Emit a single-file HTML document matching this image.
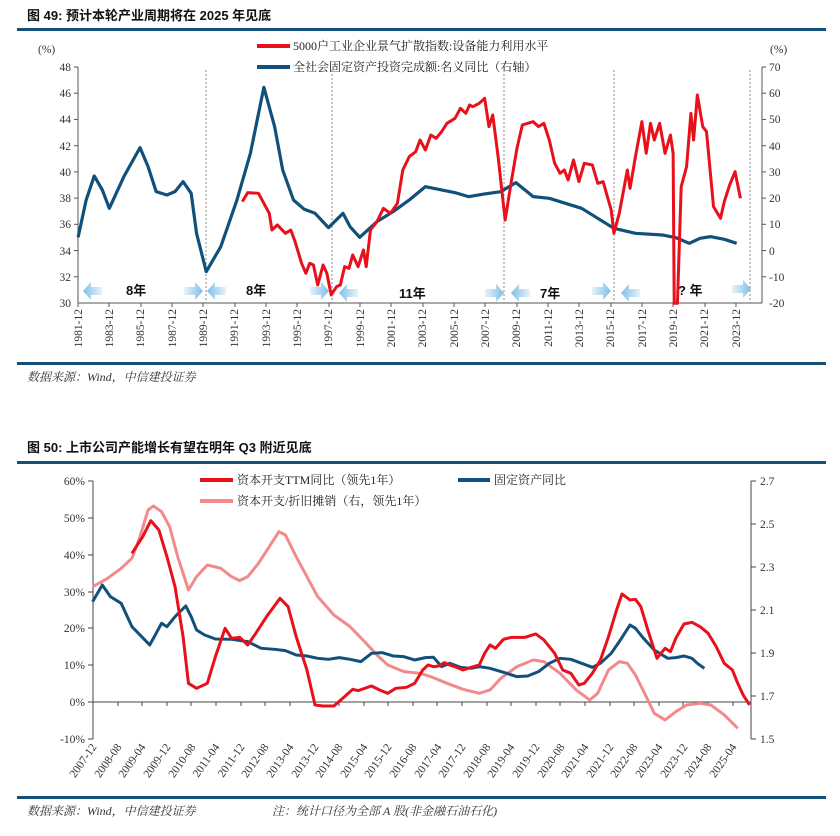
<!DOCTYPE html>
<html><head><meta charset="utf-8"><style>
body{margin:0;background:#fff;}
svg{display:block;font-family:"Liberation Serif","Noto Serif CJK SC",serif;}
.t{font-family:"Liberation Sans","Noto Sans CJK SC",sans-serif;font-weight:bold;font-size:13px;fill:#111}
.s{font-style:italic;font-size:12px;fill:#333}
.ax{font-size:11.5px;fill:#333}
.lg{font-size:12px;fill:#222}
</style></head><body>
<svg width="840" height="836" viewBox="0 0 840 836" xmlns="http://www.w3.org/2000/svg">
<defs>
<linearGradient id="gl" x1="0" x2="1"><stop offset="0" stop-color="#7fbfe8"/><stop offset="1" stop-color="#e6f3fb"/></linearGradient>
<linearGradient id="gr" x1="0" x2="1"><stop offset="0" stop-color="#e6f3fb"/><stop offset="1" stop-color="#7fbfe8"/></linearGradient>
<g id="al"><polygon points="0,0 8,-9 8,-4 19,-4 19,4 8,4 8,9" fill="url(#gl)"/></g>
<g id="ar"><polygon points="19,0 11,-9 11,-4 0,-4 0,4 11,4 11,9" fill="url(#gr)"/></g>
</defs>
<!-- Chart 1 header -->
<text x="27" y="20" class="t">图 49: 预计本轮产业周期将在 2025 年见底</text>
<rect x="17" y="28" width="809" height="3" fill="#155079"/>
<!-- legend -->
<line x1="257" y1="46" x2="290" y2="46" stroke="#e8101a" stroke-width="4"/>
<text x="293" y="50" class="lg">5000户工业企业景气扩散指数:设备能力利用水平</text>
<line x1="257" y1="67" x2="290" y2="67" stroke="#11507a" stroke-width="4"/>
<text x="293" y="71" class="lg">全社会固定资产投资完成额:名义同比（右轴）</text>
<text x="38" y="53" class="ax">(%)</text>
<text x="770" y="53" class="ax">(%)</text>
<!-- axes -->
<g stroke="#555" stroke-width="1" fill="none">
<line x1="78" y1="67" x2="78" y2="303"/>
<line x1="762" y1="67" x2="762" y2="303"/>
<line x1="78" y1="303" x2="762" y2="303"/>
</g>
<g stroke="#555">
<line x1="74" y1="67" x2="78" y2="67"/><line x1="74" y1="93.2" x2="78" y2="93.2"/><line x1="74" y1="119.4" x2="78" y2="119.4"/><line x1="74" y1="145.7" x2="78" y2="145.7"/><line x1="74" y1="171.9" x2="78" y2="171.9"/><line x1="74" y1="198.1" x2="78" y2="198.1"/><line x1="74" y1="224.3" x2="78" y2="224.3"/><line x1="74" y1="250.6" x2="78" y2="250.6"/><line x1="74" y1="276.8" x2="78" y2="276.8"/>
<line x1="762" y1="67" x2="766" y2="67"/><line x1="762" y1="93.2" x2="766" y2="93.2"/><line x1="762" y1="119.4" x2="766" y2="119.4"/><line x1="762" y1="145.7" x2="766" y2="145.7"/><line x1="762" y1="171.9" x2="766" y2="171.9"/><line x1="762" y1="198.1" x2="766" y2="198.1"/><line x1="762" y1="224.3" x2="766" y2="224.3"/><line x1="762" y1="250.6" x2="766" y2="250.6"/><line x1="762" y1="276.8" x2="766" y2="276.8"/>
</g>
<g class="ax" text-anchor="end">
<text x="71" y="71">48</text><text x="71" y="97">46</text><text x="71" y="123">44</text><text x="71" y="150">42</text><text x="71" y="176">40</text><text x="71" y="202">38</text><text x="71" y="228">36</text><text x="71" y="255">34</text><text x="71" y="281">32</text><text x="71" y="307">30</text>
</g>
<g class="ax">
<text x="769" y="71">70</text><text x="769" y="97">60</text><text x="769" y="123">50</text><text x="769" y="150">40</text><text x="769" y="176">30</text><text x="769" y="202">20</text><text x="769" y="228">10</text><text x="769" y="255">0</text><text x="769" y="281">-10</text><text x="769" y="307">-20</text>
</g>
<g id="xt1" class="ax" text-anchor="end">
<text transform="translate(82,309) rotate(-90)">1981-12</text>
<text transform="translate(113,309) rotate(-90)">1983-12</text>
<text transform="translate(144,309) rotate(-90)">1985-12</text>
<text transform="translate(176,309) rotate(-90)">1987-12</text>
<text transform="translate(207,309) rotate(-90)">1989-12</text>
<text transform="translate(238,309) rotate(-90)">1991-12</text>
<text transform="translate(270,309) rotate(-90)">1993-12</text>
<text transform="translate(301,309) rotate(-90)">1995-12</text>
<text transform="translate(332,309) rotate(-90)">1997-12</text>
<text transform="translate(364,309) rotate(-90)">1999-12</text>
<text transform="translate(395,309) rotate(-90)">2001-12</text>
<text transform="translate(426,309) rotate(-90)">2003-12</text>
<text transform="translate(458,309) rotate(-90)">2005-12</text>
<text transform="translate(489,309) rotate(-90)">2007-12</text>
<text transform="translate(520,309) rotate(-90)">2009-12</text>
<text transform="translate(552,309) rotate(-90)">2011-12</text>
<text transform="translate(583,309) rotate(-90)">2013-12</text>
<text transform="translate(614,309) rotate(-90)">2015-12</text>
<text transform="translate(646,309) rotate(-90)">2017-12</text>
<text transform="translate(677,309) rotate(-90)">2019-12</text>
<text transform="translate(708,309) rotate(-90)">2021-12</text>
<text transform="translate(740,309) rotate(-90)">2023-12</text>
</g>
<g stroke="#555">
<line x1="78" y1="303" x2="78" y2="307"/><line x1="109" y1="303" x2="109" y2="307"/><line x1="141" y1="303" x2="141" y2="307"/><line x1="172" y1="303" x2="172" y2="307"/><line x1="203" y1="303" x2="203" y2="307"/><line x1="235" y1="303" x2="235" y2="307"/><line x1="266" y1="303" x2="266" y2="307"/><line x1="297" y1="303" x2="297" y2="307"/><line x1="329" y1="303" x2="329" y2="307"/><line x1="360" y1="303" x2="360" y2="307"/><line x1="391" y1="303" x2="391" y2="307"/><line x1="423" y1="303" x2="423" y2="307"/><line x1="454" y1="303" x2="454" y2="307"/><line x1="485" y1="303" x2="485" y2="307"/><line x1="517" y1="303" x2="517" y2="307"/><line x1="548" y1="303" x2="548" y2="307"/><line x1="579" y1="303" x2="579" y2="307"/><line x1="611" y1="303" x2="611" y2="307"/><line x1="642" y1="303" x2="642" y2="307"/><line x1="673" y1="303" x2="673" y2="307"/><line x1="705" y1="303" x2="705" y2="307"/><line x1="736" y1="303" x2="736" y2="307"/>
</g>
<g stroke="#888" stroke-dasharray="2,2">
<line x1="206" y1="70" x2="206" y2="303"/><line x1="332" y1="70" x2="332" y2="303"/><line x1="504" y1="70" x2="504" y2="303"/><line x1="614" y1="70" x2="614" y2="303"/><line x1="750" y1="70" x2="750" y2="303"/>
</g>
<!-- arrows -->
<use href="#al" x="83" y="291"/><use href="#ar" x="184" y="291"/>
<use href="#al" x="207" y="291"/><use href="#ar" x="310" y="291"/>
<use href="#al" x="339" y="293"/><use href="#ar" x="485" y="293"/>
<use href="#al" x="511" y="293"/><use href="#ar" x="592" y="291"/>
<use href="#al" x="621" y="293"/><use href="#ar" x="732" y="289"/>
<g font-family="Liberation Sans,Noto Sans CJK SC,sans-serif" font-weight="bold" font-size="13" fill="#111">
<text x="126" y="295">8年</text><text x="246" y="295">8年</text><text x="399" y="298">11年</text><text x="540" y="298">7年</text><text x="678" y="295">? 年</text>
</g>
<!-- series chart 1 -->
<g transform="scale(0.5385,0.3333)" fill="none" stroke-linejoin="round">
<polyline vector-effect="non-scaling-stroke" stroke="#11507a" stroke-width="3.2" points="145,712 160,600 175,528 190,570 203,625 230,530 260,443 275,500 290,575 310,585 325,575 340,545 355,580 365,700 383,815 410,740 440,600 465,460 490,262 510,380 525,510 545,600 565,628 585,640 610,683 637,640 650,680 668,712 700,665 730,635 760,600 790,560 820,570 845,578 870,590 900,582 930,575 958,548 975,570 990,590 1020,595 1050,610 1080,625 1110,655 1140,685 1180,700 1230,705 1255,713 1280,730 1300,715 1320,710 1345,718 1368,730"/>
<polyline vector-effect="non-scaling-stroke" stroke="#e8101a" stroke-width="3" points="450,605 460,578 480,580 500,640 505,690 515,675 530,700 540,690 548,725 560,790 568,820 575,790 582,795 590,855 600,795 607,820 615,885 625,860 632,855 640,800 648,805 655,765 665,800 675,750 680,800 688,690 700,665 712,625 725,640 738,610 748,510 760,470 772,455 780,420 790,450 800,405 810,415 820,395 830,370 845,355 855,325 865,340 872,315 878,320 890,310 900,295 908,380 915,345 925,470 938,660 950,540 960,445 970,375 990,365 1000,380 1010,370 1020,420 1030,490 1040,520 1048,510 1055,540 1065,480 1075,545 1085,490 1100,495 1110,550 1120,545 1135,630 1140,700 1150,640 1165,510 1170,565 1180,470 1192,365 1200,460 1208,370 1215,420 1225,370 1235,460 1245,405 1250,460 1252,910 1258,910 1265,560 1275,500 1283,340 1288,420 1295,285 1305,380 1312,395 1325,620 1338,655 1345,605 1355,555 1365,515 1375,595"/>
</g>
<rect x="17" y="362" width="809" height="3" fill="#155079"/>
<text x="27" y="381" class="s">数据来源：Wind，中信建投证券</text>

<!-- Chart 2 -->
<text x="27" y="452" class="t">图 50: 上市公司产能增长有望在明年 Q3 附近见底</text>
<rect x="17" y="461" width="809" height="3" fill="#155079"/>
<line x1="200" y1="480" x2="233" y2="480" stroke="#e8101a" stroke-width="4"/>
<text x="237" y="484" class="lg">资本开支TTM同比（领先1年）</text>
<line x1="458" y1="480" x2="490" y2="480" stroke="#11507a" stroke-width="4"/>
<text x="494" y="484" class="lg">固定资产同比</text>
<line x1="200" y1="501" x2="233" y2="501" stroke="#f28a8c" stroke-width="4"/>
<text x="237" y="505" class="lg">资本开支/折旧摊销（右，领先1年）</text>
<g stroke="#444" fill="none">
<line x1="93" y1="481" x2="93" y2="739"/>
<line x1="751" y1="481" x2="751" y2="739"/>
<line x1="93" y1="702" x2="751" y2="702"/>
<line x1="88" y1="481" x2="93" y2="481"/><line x1="88" y1="518" x2="93" y2="518"/><line x1="88" y1="555" x2="93" y2="555"/><line x1="88" y1="592" x2="93" y2="592"/><line x1="88" y1="628" x2="93" y2="628"/><line x1="88" y1="665" x2="93" y2="665"/><line x1="88" y1="702" x2="93" y2="702"/><line x1="88" y1="739" x2="93" y2="739"/>
<line x1="751" y1="481" x2="756" y2="481"/><line x1="751" y1="524" x2="756" y2="524"/><line x1="751" y1="567" x2="756" y2="567"/><line x1="751" y1="610" x2="756" y2="610"/><line x1="751" y1="653" x2="756" y2="653"/><line x1="751" y1="696" x2="756" y2="696"/><line x1="751" y1="739" x2="756" y2="739"/>
</g>
<g stroke="#444">
<line x1="118" y1="702" x2="118" y2="706"/><line x1="142" y1="702" x2="142" y2="706"/><line x1="167" y1="702" x2="167" y2="706"/><line x1="191" y1="702" x2="191" y2="706"/><line x1="216" y1="702" x2="216" y2="706"/><line x1="241" y1="702" x2="241" y2="706"/><line x1="265" y1="702" x2="265" y2="706"/><line x1="290" y1="702" x2="290" y2="706"/><line x1="314" y1="702" x2="314" y2="706"/><line x1="339" y1="702" x2="339" y2="706"/><line x1="364" y1="702" x2="364" y2="706"/><line x1="388" y1="702" x2="388" y2="706"/><line x1="413" y1="702" x2="413" y2="706"/><line x1="437" y1="702" x2="437" y2="706"/><line x1="462" y1="702" x2="462" y2="706"/><line x1="487" y1="702" x2="487" y2="706"/><line x1="511" y1="702" x2="511" y2="706"/><line x1="536" y1="702" x2="536" y2="706"/><line x1="560" y1="702" x2="560" y2="706"/><line x1="585" y1="702" x2="585" y2="706"/><line x1="610" y1="702" x2="610" y2="706"/><line x1="634" y1="702" x2="634" y2="706"/><line x1="659" y1="702" x2="659" y2="706"/><line x1="683" y1="702" x2="683" y2="706"/><line x1="708" y1="702" x2="708" y2="706"/><line x1="733" y1="702" x2="733" y2="706"/>
</g>
<g class="ax" text-anchor="end">
<text x="85" y="485">60%</text><text x="85" y="522">50%</text><text x="85" y="559">40%</text><text x="85" y="596">30%</text><text x="85" y="632">20%</text><text x="85" y="669">10%</text><text x="85" y="706">0%</text><text x="85" y="743">-10%</text>
</g>
<g class="ax">
<text x="760" y="485">2.7</text><text x="760" y="528">2.5</text><text x="760" y="571">2.3</text><text x="760" y="614">2.1</text><text x="760" y="657">1.9</text><text x="760" y="700">1.7</text><text x="760" y="743">1.5</text>
</g>
<g class="ax" text-anchor="end">
<text transform="translate(97,747) rotate(-55)">2007-12</text>
<text transform="translate(122,747) rotate(-55)">2008-08</text>
<text transform="translate(146,747) rotate(-55)">2009-04</text>
<text transform="translate(171,747) rotate(-55)">2009-12</text>
<text transform="translate(196,747) rotate(-55)">2010-08</text>
<text transform="translate(220,747) rotate(-55)">2011-04</text>
<text transform="translate(245,747) rotate(-55)">2011-12</text>
<text transform="translate(269,747) rotate(-55)">2012-08</text>
<text transform="translate(294,747) rotate(-55)">2013-04</text>
<text transform="translate(319,747) rotate(-55)">2013-12</text>
<text transform="translate(343,747) rotate(-55)">2014-08</text>
<text transform="translate(368,747) rotate(-55)">2015-04</text>
<text transform="translate(392,747) rotate(-55)">2015-12</text>
<text transform="translate(417,747) rotate(-55)">2016-08</text>
<text transform="translate(442,747) rotate(-55)">2017-04</text>
<text transform="translate(466,747) rotate(-55)">2017-12</text>
<text transform="translate(491,747) rotate(-55)">2018-08</text>
<text transform="translate(515,747) rotate(-55)">2019-04</text>
<text transform="translate(540,747) rotate(-55)">2019-12</text>
<text transform="translate(565,747) rotate(-55)">2020-08</text>
<text transform="translate(589,747) rotate(-55)">2021-04</text>
<text transform="translate(614,747) rotate(-55)">2021-12</text>
<text transform="translate(638,747) rotate(-55)">2022-08</text>
<text transform="translate(663,747) rotate(-55)">2023-04</text>
<text transform="translate(688,747) rotate(-55)">2023-12</text>
<text transform="translate(712,747) rotate(-55)">2024-08</text>
<text transform="translate(737,747) rotate(-55)">2025-04</text>
</g>
<g transform="translate(0,430) scale(0.5385,0.3333)" fill="none" stroke-linejoin="round">
<polyline vector-effect="non-scaling-stroke" stroke="#f28a8c" stroke-width="3" points="172,470 200,445 225,415 245,385 260,320 275,240 285,228 300,245 315,290 330,380 350,480 365,440 385,405 410,415 430,440 445,452 460,440 480,400 500,350 518,305 530,315 550,380 570,440 590,500 620,555 650,590 680,640 700,675 720,705 750,725 780,730 800,740 830,760 860,778 890,790 910,780 930,745 960,710 990,690 1010,695 1040,730 1070,780 1095,810 1110,790 1130,720 1150,695 1165,700 1180,735 1200,800 1215,850 1235,870 1255,845 1275,825 1300,820 1320,825 1345,855 1370,895"/>
<polyline vector-effect="non-scaling-stroke" stroke="#11507a" stroke-width="3" points="172,515 190,465 205,500 225,520 245,590 260,615 278,645 290,610 300,580 310,590 325,560 345,528 355,560 365,600 380,615 400,627 430,628 460,635 485,655 510,658 530,662 550,675 570,678 590,685 610,688 630,683 650,688 670,695 690,670 710,668 730,678 750,680 770,690 790,683 805,682 820,710 835,700 855,712 875,715 890,710 910,715 935,727 960,740 980,738 1000,725 1020,700 1040,685 1060,688 1080,700 1100,712 1115,700 1135,670 1150,635 1170,585 1180,595 1195,625 1215,660 1240,685 1255,683 1270,678 1285,685 1295,700 1308,715"/>
<polyline vector-effect="non-scaling-stroke" stroke="#e8101a" stroke-width="3" points="245,370 265,320 280,272 295,300 310,380 325,470 340,620 350,760 365,775 385,760 400,680 418,595 430,625 445,622 460,645 475,610 495,560 520,505 535,530 550,620 570,720 585,825 600,828 620,828 640,800 655,778 665,782 690,768 705,780 720,790 735,775 755,772 770,760 785,720 795,705 805,710 815,708 825,698 835,705 848,712 860,720 875,712 890,705 900,670 910,645 920,655 935,628 950,622 975,622 995,612 1010,630 1030,670 1045,720 1060,730 1075,765 1085,760 1100,730 1115,690 1130,620 1145,540 1155,492 1170,510 1180,508 1190,530 1205,610 1220,685 1235,655 1245,665 1255,625 1270,582 1285,577 1300,590 1315,610 1330,650 1345,700 1360,720 1370,760 1380,795 1392,825"/>
</g>
<rect x="17" y="796" width="809" height="3" fill="#155079"/>
<text x="27" y="815" class="s">数据来源：Wind，中信建投证券</text>
<text x="272" y="815" class="s">注：统计口径为全部 A 股(非金融石油石化)</text>
</svg>
</body></html>
